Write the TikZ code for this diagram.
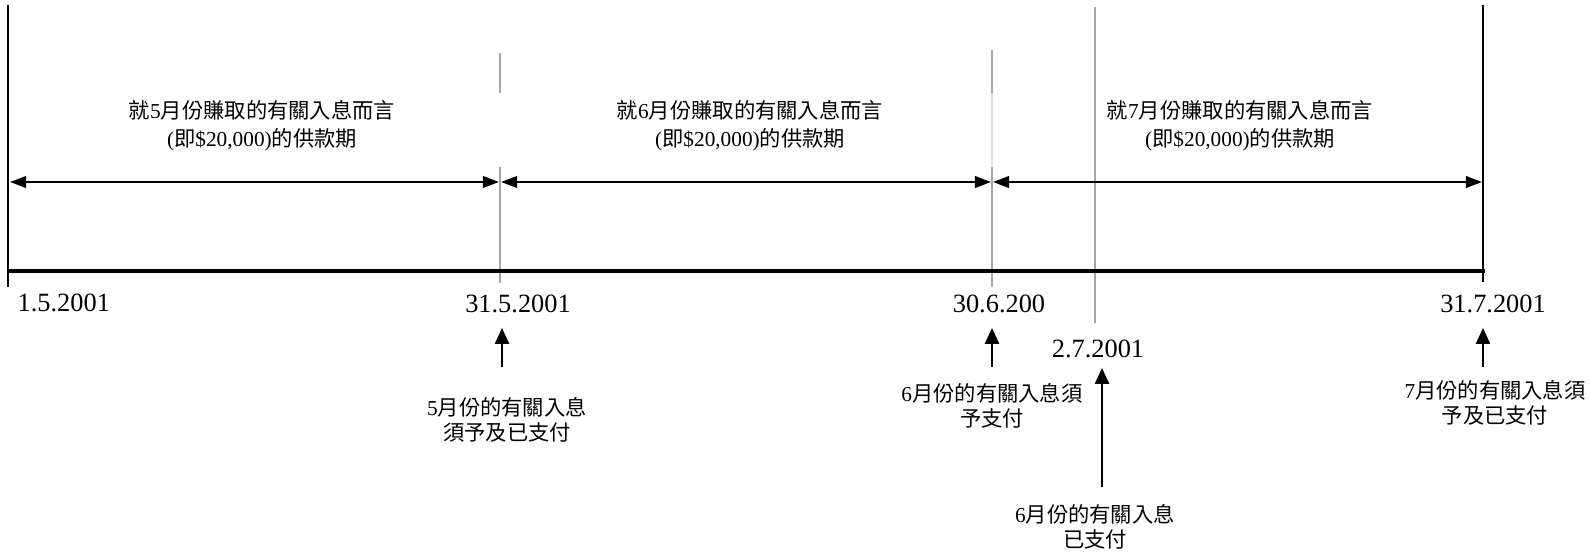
\documentclass[tikz,border=0pt]{standalone}
\usepackage{fontspec}
\setmainfont{Liberation Serif}
\newfontfamily\cjk{Noto Sans CJK TC}
\usetikzlibrary{arrows.meta}

\newcommand{\datefont}{\fontsize{7.5pt}{8pt}\selectfont}
\newcommand{\notefont}{\fontsize{6.06pt}{7.1pt}\selectfont}
\newcommand{\spanfont}{\fontsize{6.06pt}{7.9pt}\selectfont}

\begin{document}
\begin{tikzpicture}[
    date/.style = {
      font=\datefont,
      inner sep=0pt,
      anchor=base
    },
    note/.style = {
      font=\notefont,
      align=center,
      inner sep=0pt
    },
    spannote/.style = {
      font=\spanfont,
      align=center,
      inner sep=0pt
    },
    span/.style = {
      {Triangle[length=4.6pt,width=3.3pt]}-{Triangle[length=4.6pt,width=3.3pt]},
      line width=0.65pt
    },
    arrow/.style = {
      -{Triangle[length=4.5pt,width=4pt]},
      line width=0.65pt
    },
    edge/.style = {
      line width=0.6pt
    },
    tick/.style = {
      draw=black!35,
      line width=0.35pt
    }
  ]

    \useasboundingbox (0,0) rectangle (15.91,-5.55);

    % Ends of the timeline
    \coordinate (starttop) at (0.08,-0.05);
    \coordinate (startbot) at (0.08,-2.87);
    \coordinate (endtop)   at (14.83,-0.05);
    \coordinate (endbot)   at (14.83,-2.82);
    \coordinate (linestart) at (0.08,-2.71);
    \coordinate (lineend)   at (14.85,-2.71);

    % Gray month marks
    \coordinate (maytop)  at (5.00,-0.53);
    \coordinate (maygap)  at (5.00,-0.93);
    \coordinate (maymid)  at (5.00,-1.67);
    \coordinate (maybot)  at (5.00,-2.83);
    \coordinate (juntop)  at (9.92,-0.50);
    \coordinate (jungap)  at (9.92,-0.93);
    \coordinate (junmid)  at (9.92,-1.67);
    \coordinate (junbot)  at (9.92,-2.87);
    \coordinate (paidtop) at (10.95,-0.07);
    \coordinate (paidbot) at (10.95,-3.23);

    % Period arrows
    \coordinate (p1a) at (0.10,-1.82);
    \coordinate (p1b) at (4.99,-1.82);
    \coordinate (p2a) at (5.01,-1.82);
    \coordinate (p2b) at (9.91,-1.82);
    \coordinate (p3a) at (9.93,-1.82);
    \coordinate (p3b) at (14.82,-1.82);

    % Period texts
    \node[spannote] (may) at (2.62,-1.26)
      {{\cjk 就}5{\cjk 月份賺取的有關入息而言}\\({\cjk 即}\$20,000){\cjk 的供款期}};
    \node[spannote] (jun) at (7.50,-1.26)
      {{\cjk 就}6{\cjk 月份賺取的有關入息而言}\\({\cjk 即}\$20,000){\cjk 的供款期}};
    \node[spannote] (jul) at (12.40,-1.26)
      {{\cjk 就}7{\cjk 月份賺取的有關入息而言}\\({\cjk 即}\$20,000){\cjk 的供款期}};

    % Dates
    \node[date, anchor=base west] (d1may)  at (0.17,-3.12) {1.5.2001};
    \node[date] (d31may) at (5.18,-3.13) {31.5.2001};
    \node[date] (d30jun) at (9.99,-3.13) {30.6.200};
    \node[date] (d2jul)  at (10.98,-3.58) {2.7.2001};
    \node[date] (d31jul) at (14.93,-3.13) {31.7.2001};

    % Notes below
    \node[note] (duemay) at (5.07,-4.195)
      {5{\cjk 月份的有關入息}\\{\cjk 須予及已支付}};
    \node[note] (duejun) at (9.92,-4.06)
      {6{\cjk 月份的有關入息須}\\{\cjk 予支付}};
    \node[note] (paidjun) at (10.95,-5.265)
      {6{\cjk 月份的有關入息}\\{\cjk 已支付}};
    \node[note] (duejul) at (14.95,-4.03)
      {7{\cjk 月份的有關入息須}\\{\cjk 予及已支付}};

    % Arrow ends below the dates
    \coordinate (maydue)  at (5.02,-3.67);
    \coordinate (maytip)  at (5.02,-3.28);
    \coordinate (jundue)  at (9.92,-3.67);
    \coordinate (juntip)  at (9.92,-3.28);
    \coordinate (juldue)  at (14.83,-3.67);
    \coordinate (jultip)  at (14.83,-3.28);
    \coordinate (junpaid) at (11.02,-4.87);
    \coordinate (paidtip) at (11.02,-3.68);

    % Lines
    \draw[tick] (maytop) -- (maygap);
    \draw[tick] (maymid) -- (maybot);
    \draw[tick] (juntop) -- (jungap);
    \draw[tick, draw=black!12] (jungap) -- (junmid);
    \draw[tick] (junmid) -- (junbot);
    \draw[tick] (paidtop) -- (paidbot);
    \draw[edge] (starttop) -- (startbot);
    \draw[edge] (endtop) -- (endbot);
    \draw[line width=1.4pt] (linestart) -- (lineend);

    % Arrows
    \draw[span] (p1a) -- (p1b);
    \draw[span] (p2a) -- (p2b);
    \draw[span] (p3a) -- (p3b);
    \draw[arrow] (maydue) -- (maytip);
    \draw[arrow] (jundue) -- (juntip);
    \draw[arrow] (juldue) -- (jultip);
    \draw[arrow] (junpaid) -- (paidtip);

  \end{tikzpicture}
\end{document}
